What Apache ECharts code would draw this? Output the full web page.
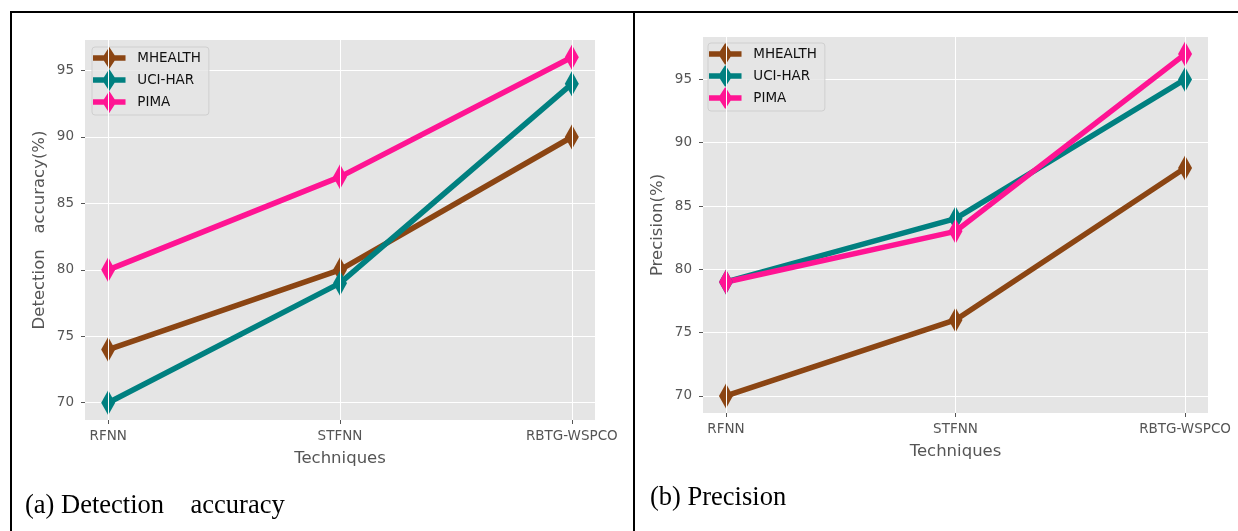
<!DOCTYPE html>
<html><head><meta charset="utf-8">
<script src="https://cdn.jsdelivr.net/npm/echarts@6/dist/echarts.min.js"></script>
<style>html,body{margin:0;padding:0;background:#fff}#c{width:1238px;height:531px}</style>
</head><body><div id="c"></div>
<script>
const categories = ['RFNN', 'STFNN', 'RBTG-WSPCO'];
const seriesNames = ['MHEALTH', 'UCI-HAR', 'PIMA'];
const accMHEALTH = [74, 80, 90];
const accUCIHAR = [70, 79, 94];
const accPIMA = [80, 87, 96];
const precMHEALTH = [70, 76, 88];
const precUCIHAR = [79, 84, 95];
const precPIMA = [79, 83, 97];
const yTickValues = [70, 75, 80, 85, 90, 95];
const colors = ['#8B4513', '#008080', '#FF1493'];

const catIdx = categories.map((c, i) => i);
const legendIcon = 'path://M0 8.5 L34 8.5 L34 14.5 L0 14.5 Z M17 0 L24.5 11.5 L17 23 L9.5 11.5 Z';
const tickColor = '#555555';
const font = 'DejaVu Sans';

function xAxisFor(gi) {
  return {
    type: 'value', gridIndex: gi, min: -0.1, max: 2.1,
    name: 'Techniques', nameLocation: 'middle', nameGap: 30,
    nameTextStyle: { color: tickColor, fontSize: 16.5, fontFamily: font },
    axisLine: { show: false, onZero: false },
    axisTick: { show: true, customValues: catIdx, length: 4, lineStyle: { color: tickColor, width: 1 } },
    axisLabel: { customValues: catIdx, margin: 9, color: tickColor, fontSize: 13.5, fontFamily: font,
      formatter: v => categories[Math.round(v)] },
    splitLine: { show: false }
  };
}
function yAxisFor(gi, min, max, name) {
  return {
    type: 'value', gridIndex: gi, min: min, max: max,
    name: name, nameLocation: 'middle', nameGap: 37,
    nameTextStyle: { color: tickColor, fontSize: 16.5, fontFamily: font },
    axisLine: { show: false, onZero: false },
    axisTick: { show: true, customValues: yTickValues, length: 4, lineStyle: { color: tickColor, width: 1 } },
    axisLabel: { customValues: yTickValues, margin: 11, color: tickColor, fontSize: 13.5, fontFamily: font },
    splitLine: { show: true, lineStyle: { color: '#ffffff', width: 1 } }
  };
}
function lineSeries(name, data, gi, ci) {
  return {
    type: 'line', name: name, xAxisIndex: gi, yAxisIndex: gi, z: 3,
    data: data.map((v, i) => [catIdx[i], v]),
    symbol: 'diamond', symbolSize: [14, 25],
    lineStyle: { color: colors[ci], width: 5.5 },
    itemStyle: { color: colors[ci] },
    showSymbol: true, silent: true
  };
}
function gridLinesSeries(gi) {
  return {
    type: 'line', xAxisIndex: gi, yAxisIndex: gi, z: 1, data: [], silent: true,
    markLine: { silent: true, symbol: ['none', 'none'], label: { show: false },
      lineStyle: { color: '#ffffff', width: 1, type: 'solid' },
      data: catIdx.map(i => ({ xAxis: i })) }
  };
}
function legendFor(left, top) {
  return {
    left: left, top: top, orient: 'vertical', data: seriesNames,
    icon: legendIcon, itemWidth: 34, itemHeight: 22, itemGap: 0,
    padding: [0, 8, 2, 1],
    backgroundColor: 'rgba(229,229,229,0.8)', borderColor: '#cfcfcf', borderWidth: 1, borderRadius: 3,
    itemStyle: { borderWidth: 0 },
    textStyle: { color: '#111', fontSize: 13.5, fontFamily: font, padding: [0, 0, 0, 6] },
    selectedMode: false
  };
}

const option = {
  animation: false,
  grid: [
    { left: 85, top: 40, width: 510, height: 380, show: true, backgroundColor: '#E5E5E5', borderWidth: 0 },
    { left: 703, top: 37, width: 505, height: 376, show: true, backgroundColor: '#E5E5E5', borderWidth: 0 }
  ],
  xAxis: [xAxisFor(0), xAxisFor(1)],
  yAxis: [yAxisFor(0, 68.7, 97.3, 'Detection   accuracy(%)'), yAxisFor(1, 68.65, 98.35, 'Precision(%)')],
  legend: [legendFor(92, 47), legendFor(708, 43)],
  series: [
    gridLinesSeries(0), gridLinesSeries(1),
    lineSeries(seriesNames[0], accMHEALTH, 0, 0),
    lineSeries(seriesNames[1], accUCIHAR, 0, 1),
    lineSeries(seriesNames[2], accPIMA, 0, 2),
    lineSeries(seriesNames[0], precMHEALTH, 1, 0),
    lineSeries(seriesNames[1], precUCIHAR, 1, 1),
    lineSeries(seriesNames[2], precPIMA, 1, 2)
  ],
  graphic: [
    { type: 'line', shape: { x1: 10, y1: 12, x2: 1238, y2: 12 }, style: { stroke: '#000', lineWidth: 2 } },
    { type: 'line', shape: { x1: 11, y1: 12, x2: 11, y2: 531 }, style: { stroke: '#000', lineWidth: 2 } },
    { type: 'line', shape: { x1: 634, y1: 12, x2: 634, y2: 531 }, style: { stroke: '#000', lineWidth: 2 } },
    { type: 'text', left: 25, top: 493, style: { text: '(a) Detection    accuracy', fill: '#000', font: '26.5px "Liberation Serif"' } },
    { type: 'text', left: 650, top: 485, style: { text: '(b) Precision', fill: '#000', font: '26.5px "Liberation Serif"' } }
  ]
};
const chart = echarts.init(document.getElementById('c'), null, { renderer: 'canvas' });
chart.setOption(option);
</script></body></html>
